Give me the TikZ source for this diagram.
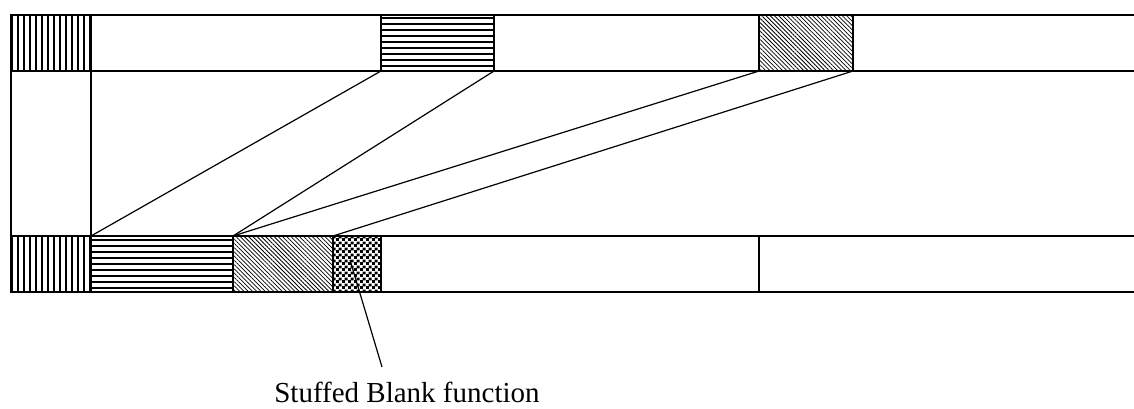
\documentclass[tikz,border=0pt]{standalone}
\usepackage{fontspec}
\setmainfont{Liberation Serif}
\usetikzlibrary{patterns.meta}

% small square checks for the stuffed cell
\pgfdeclarepattern{
  name=smallchecks,
  type=uncolored,
  bottom left={\pgfpointorigin},
  top right={\pgfqpoint{6pt}{6pt}},
  tile size={\pgfqpoint{6pt}{6pt}},
  code={
    \pgfpathrectangle{\pgfpointorigin}{\pgfqpoint{3.3pt}{3.3pt}}
    \pgfpathrectangle{\pgfqpoint{3pt}{3pt}}{\pgfqpoint{3.3pt}{3.3pt}}
    \pgfusepath{fill}
  }
}

\begin{document}
\begin{tikzpicture}[
  x=1pt, y=-1pt,
  cell/.style={draw, line width=1.6pt, inner sep=0pt, outer sep=0pt,
               anchor=north west, minimum height=56pt},
  frame/.style={line width=1.6pt},
  vhatch/.style={pattern={Lines[angle=90,distance=6pt,line width=1.4pt]}},
  hhatch/.style={pattern={Lines[angle=0,distance=6pt,line width=1.1pt]}},
  dhatch/.style={pattern={Lines[angle=-45,distance=3pt,line width=0.75pt]}},
  chatch/.style={pattern=smallchecks},
  link/.style={line width=1.2pt},
  lbl/.style={font=\fontsize{29}{34}\selectfont, inner sep=0pt, anchor=base}
]
\useasboundingbox (0,0) rectangle (1134,408);

% right ends of the open rows
\coordinate (tTop) at (1134,15);
\coordinate (tBot) at (1134,71);
\coordinate (bTop) at (1134,236);
\coordinate (bBot) at (1134,292);

% upper row
\node[cell, vhatch, minimum width=80pt]  (tv) at (11,15)  {};
\node[cell, hhatch, minimum width=113pt] (th) at (381,15) {};
\node[cell, dhatch, minimum width=94pt]  (td) at (759,15) {};

% left column between the rows
\node[cell, minimum width=80pt, minimum height=165pt] (side) at (11,71) {};

% lower row
\node[cell, vhatch, minimum width=80pt]  (bv) at (11,236)  {};
\node[cell, hhatch, minimum width=142pt] (bh) at (91,236)  {};
\node[cell, dhatch, minimum width=100pt] (bd) at (233,236) {};
\node[cell, chatch, minimum width=48pt]  (bc) at (333,236) {};
\node[cell, minimum width=378pt]         (b1) at (381,236) {};

% row edges running off to the right
\draw[frame] (tv.north west) -- (tTop);
\draw[frame] (tv.south west) -- (tBot);
\draw[frame] (bv.north west) -- (bTop);
\draw[frame] (bv.south west) -- (bBot);

% mapping of the upper blocks onto the lower row
\draw[link] (th.south west) -- (bh.north west);
\draw[link] (th.south east) -- (bh.north east);
\draw[link] (td.south west) -- (bd.north west);
\draw[link] (td.south east) -- (bd.north east);

% label with its pointer
\node[lbl] (note) at (407,402) {Stuffed Blank function};
\coordinate (ptrA) at (350,260);
\coordinate (ptrB) at (382,367);
\draw[link] (ptrA) -- (ptrB);
\end{tikzpicture}
\end{document}
